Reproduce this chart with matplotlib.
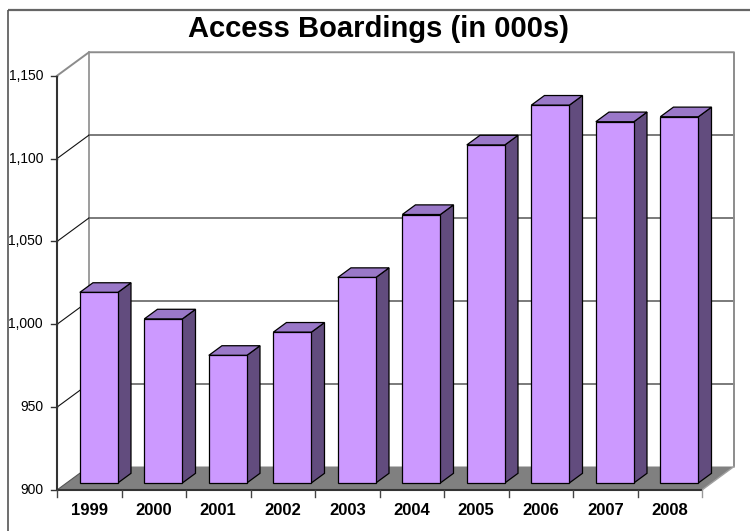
import numpy as np
import matplotlib
matplotlib.use("Agg")
import matplotlib.pyplot as plt
from matplotlib.patches import Polygon

plt.rcParams['font.family'] = ['Liberation Sans', 'DejaVu Sans']

years = ["1999", "2000", "2001", "2002", "2003", "2004", "2005", "2006", "2007", "2008"]
boardings = [1015, 999, 977, 991, 1024, 1062, 1104, 1128, 1118, 1121]
y_ticks = [900, 950, 1000, 1050, 1100, 1150]
title = "Access Boardings (in 000s)"

# canvas layout (pixels)
W, H = 750, 531
X0_PX = 57.0          # left edge of the floor, front
CAT_PX = 64.5         # width of one category
BASE_PX = 490.0       # y of the floor front edge (from top)
UNIT_PX = 1.657       # pixels per thousand boardings
DEPTH_PX = (32.0, 23.5)

YMIN = y_ticks[0]
YMAX = y_ticks[-1]
n = len(years)

DX = DEPTH_PX[0] / CAT_PX
DY = DEPTH_PX[1] / UNIT_PX
BAR_W = 0.59
F0, F1 = 0.30, 0.71   # bar front / back depth


def at(x, y, f=0.0):
    return (x + f * DX, y + f * DY)


fig = plt.figure(figsize=(W / 100, H / 100), dpi=100)
ax = fig.add_axes([0, 0, 1, 1])
ax.set_xlim(-X0_PX / CAT_PX, (W - X0_PX) / CAT_PX)
ax.set_ylim(YMIN - (H - BASE_PX) / UNIT_PX, YMIN + BASE_PX / UNIT_PX)
ax.axis("off")

# chart frame (top and left edges fall inside the canvas)
px_x = lambda p: -X0_PX / CAT_PX + p / CAT_PX
px_y = lambda p: YMIN + (BASE_PX - p) / UNIT_PX
ax.plot([px_x(8), px_x(760)], [px_y(10), px_y(10)], color="#666666", lw=1.6, solid_capstyle="butt")
ax.plot([px_x(8), px_x(8)], [px_y(10), px_y(540)], color="#555555", lw=1.2, solid_capstyle="butt")

# back wall gridlines
for v in y_ticks[1:-1]:
    xs, ys = zip(at(0, v, 1), at(n, v, 1))
    ax.plot(xs, ys, color="#7a7a7a", lw=1.4, zorder=1)
xs, ys = zip(at(0, YMAX, 0), at(0, YMAX, 1), at(n, YMAX, 1), at(n, YMIN, 1))
ax.plot(xs, ys, color="#8c8c8c", lw=1.4, zorder=1)
xs, ys = zip(at(0, YMIN, 1), at(0, YMAX, 1))
ax.plot(xs, ys, color="#8c8c8c", lw=1.2, zorder=1)

# side wall diagonals
for v in y_ticks[1:-1]:
    xs, ys = zip(at(0, v, 0), at(0, v, 1))
    ax.plot(xs, ys, color="#111111", lw=0.8, zorder=1)

# floor
floor = Polygon([at(0, YMIN, 0), at(n, YMIN, 0), at(n, YMIN, 1), at(0, YMIN, 1)],
                closed=True, facecolor="#808080", edgecolor="none", zorder=2)
ax.add_patch(floor)
xs, ys = zip(at(n, YMIN, 0), at(n, YMIN, 1))
ax.plot(xs, ys, color="#a0a0a0", lw=1.0, zorder=2)
xs, ys = zip(at(0, YMIN, 0), at(0, YMIN, 1))
ax.plot(xs, ys, color="#555555", lw=0.8, zorder=2)

# bars
for i, v in enumerate(boardings):
    xl = i + 0.5 - BAR_W / 2
    xr = i + 0.5 + BAR_W / 2
    front = [at(xl, YMIN, F0), at(xr, YMIN, F0), at(xr, v, F0), at(xl, v, F0)]
    side = [at(xr, YMIN, F0), at(xr, YMIN, F1), at(xr, v, F1), at(xr, v, F0)]
    top = [at(xl, v, F0), at(xr, v, F0), at(xr, v, F1), at(xl, v, F1)]
    for pts, col in ((side, "#624c7e"), (top, "#9a78c8"), (front, "#cc99ff")):
        ax.add_patch(Polygon(pts, closed=True, facecolor=col, edgecolor="black",
                             lw=0.9, joinstyle="miter", zorder=3))

# value axis
ax.plot([0, 0], [YMIN, YMAX], color="#333333", lw=1.5, zorder=4, solid_capstyle="butt")
tick_len = 6 / CAT_PX
for v in y_ticks:
    ax.plot([-tick_len, 0], [v, v], color="#333333", lw=1.0, zorder=4)
    ax.text(-tick_len - 8 / CAT_PX, v, f"{v:,}", ha="right", va="center",
            fontsize=10, color="black")

# category axis
ax.plot([0, n], [YMIN, YMIN], color="#333333", lw=1.5, zorder=4, solid_capstyle="butt")
tick_h = 7 / UNIT_PX
for k in range(n + 1):
    ax.plot([k, k], [YMIN, YMIN - tick_h], color="#444444" if k < n else "#999999",
            lw=1.0, zorder=4)
for i, lab in enumerate(years):
    ax.text(i + 0.5, YMIN - 20 / UNIT_PX, lab, ha="center", va="center",
            fontsize=12, fontweight="bold")

ax.text(px_x(379), px_y(29), title, ha="center", va="center",
        fontsize=21, fontweight="bold")

fig.savefig("out.png", dpi=100)
